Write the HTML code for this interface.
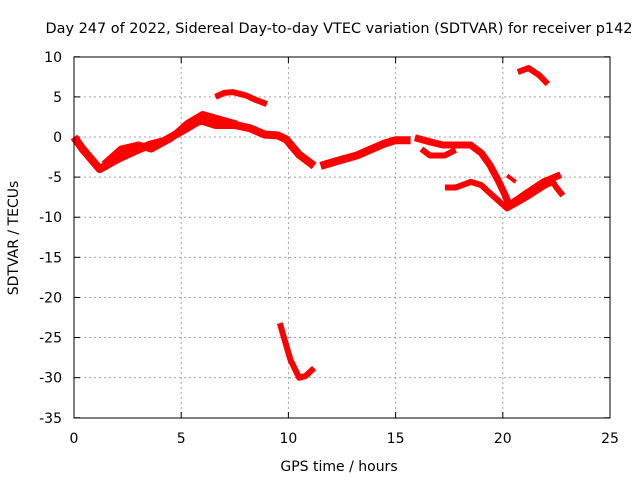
<!DOCTYPE html>
<html><head><meta charset="utf-8"><style>
body{margin:0;background:#fff}
svg{display:block;font-family:"DejaVu Sans","Liberation Sans",sans-serif;font-size:14px}
</style></head><body>
<svg id="c" width="640" height="480">
<text x="339" y="33" text-anchor="middle" textLength="587" lengthAdjust="spacingAndGlyphs">Day 247 of 2022, Sidereal Day-to-day VTEC variation (SDTVAR) for receiver p142</text>
<text x="339" y="471" text-anchor="middle">GPS time / hours</text>
<text transform="translate(18,238) rotate(-90)" text-anchor="middle">SDTVAR / TECUs</text>
<g id="grid"></g><g id="marks"></g>
<rect x="74" y="57" width="536" height="361" fill="none" stroke="#000" stroke-width="1"/>
</svg>
<script>
const xTicks=[0,5,10,15,20,25];
const yTicks=[10,5,0,-5,-10,-15,-20,-25,-30,-35];
const seriesA=[[0,0],[0.4,-1.5],[1.2,-4],[2,-2.8],[2.8,-1.8],[3.5,-1],[4.2,-0.5],[5,0.7],[5.9,2.1],[6.6,1.5],[7.5,1.5],[8.2,1.1],[8.9,0.3],[9.5,0.2],[9.9,-0.3],[10.5,-2.2],[11.2,-3.6]];
const seriesA2=[[1.4,-3.4],[2.2,-1.5],[3,-1],[3.6,-1.5],[4.5,-0.2],[5.3,1.7],[6,2.8],[6.8,2.2],[7.6,1.6]];
const seriesB=[[6.6,5],[7,5.5],[7.4,5.6],[8,5.2],[8.5,4.6],[9,4.1]];
const seriesC=[[9.6,-23.2],[9.9,-26],[10.1,-27.8],[10.5,-30],[10.8,-29.8],[11.2,-28.8]];
const seriesD=[[11.5,-3.6],[12.4,-2.9],[13.2,-2.3],[13.8,-1.6],[14.5,-0.8],[15,-0.4],[15.7,-0.4]];
const seriesE=[[15.9,-0.1],[16.6,-0.6],[17.2,-1],[17.8,-1],[18.5,-1],[19,-2],[19.4,-3.5],[19.8,-5.5],[20.1,-7.2],[20.3,-8.5],[21,-7.2],[21.9,-5.6],[22.7,-4.7]];
const seriesE2=[[16.2,-1.5],[16.6,-2.3],[17.3,-2.3],[17.8,-1.6]];
const seriesF=[[17.3,-6.3],[17.8,-6.3],[18.5,-5.6],[19,-6],[19.4,-7],[20.2,-8.9],[20.8,-8],[21.3,-7.2],[22,-6],[22.4,-5.5]];
const seriesG=[[20.7,8.1],[21.2,8.6],[21.7,7.7],[22.1,6.6]];
const seriesH=[[22.2,-5],[22.5,-6.3],[22.8,-7.3]];
const seriesI=[[20.2,-4.8],[20.6,-5.6]];
const allSeries=[["series-a",seriesA,8],["series-a2",seriesA2,7],["series-b",seriesB,6],["series-c",seriesC,6],["series-d",seriesD,8],["series-e",seriesE,7],["series-e2",seriesE2,6],["series-f",seriesF,6],["series-g",seriesG,6],["series-h",seriesH,6],["series-i",seriesI,4]];
const X=v=>74+v*(536/25), Y=v=>137-v*(361/45);
const NS="http://www.w3.org/2000/svg";
const g=document.getElementById('grid'), m=document.getElementById('marks');
function mk(t,a,p){const e=document.createElementNS(NS,t);for(const k in a)e.setAttribute(k,a[k]);p.appendChild(e);return e;}
xTicks.forEach(t=>{
 const x=X(t);
 if(t>0&&t<25){const l=mk('line',{x1:x,x2:x,y1:57,y2:418,stroke:'#a0a0a0','stroke-dasharray':'2,3'},g);
 
 }
 mk('line',{x1:x,x2:x,y1:418,y2:412,stroke:'#000'},g);
 mk('line',{x1:x,x2:x,y1:57,y2:63,stroke:'#000'},g);
 const tx=mk('text',{x:x,y:443,'text-anchor':'middle'},g);tx.textContent=t;
 
 
});
yTicks.forEach(t=>{
 const y=Y(t);
 if(t<10&&t>-35){const l=mk('line',{x1:74,x2:610,y1:y,y2:y,stroke:'#a0a0a0','stroke-dasharray':'2,3'},g);
 
 }
 mk('line',{x1:74,x2:80,y1:y,y2:y,stroke:'#000'},g);
 mk('line',{x1:610,x2:604,y1:y,y2:y,stroke:'#000'},g);
 const tx=mk('text',{x:62,y:y+5,'text-anchor':'end'},g);tx.textContent=t;
 
 
});
allSeries.forEach(([n,d,w])=>{
 const p=mk('polyline',{points:d.map(q=>X(q[0])+','+Y(q[1])).join(' '),fill:'none',stroke:'#ff0000','stroke-width':w,'stroke-linejoin':'round','stroke-linecap':'butt'},m);
 
 
});
</script>
</body></html>
